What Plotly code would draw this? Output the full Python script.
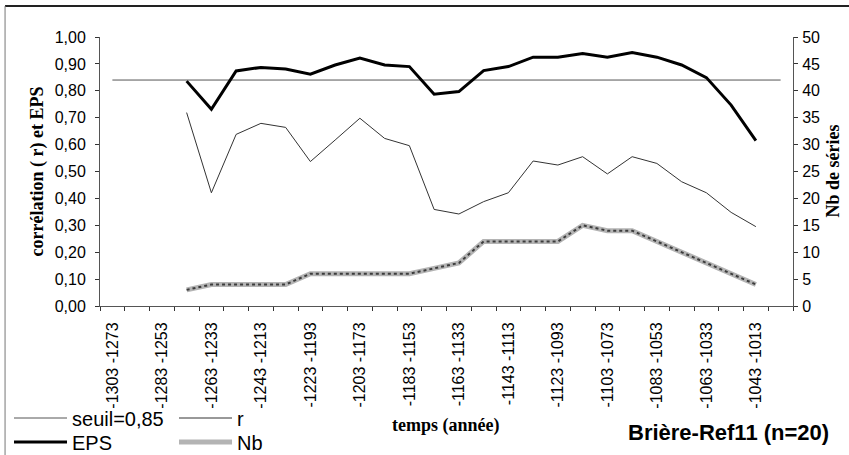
import plotly.graph_objects as go

categories = ["-1303 -1273", "-1293 -1263", "-1283 -1253", "-1273 -1243", "-1263 -1233",
              "-1253 -1223", "-1243 -1213", "-1233 -1203", "-1223 -1193", "-1213 -1183",
              "-1203 -1173", "-1193 -1163", "-1183 -1153", "-1173 -1143", "-1163 -1133",
              "-1153 -1123", "-1143 -1113", "-1133 -1103", "-1123 -1093", "-1113 -1083",
              "-1103 -1073", "-1093 -1063", "-1083 -1053", "-1073 -1043", "-1063 -1033",
              "-1053 -1023", "-1043 -1013", "-1033 -1003"]
tick_labels = ["-1303 -1273", "", "-1283 -1253", "", "-1263 -1233", "", "-1243 -1213", "",
               "-1223 -1193", "", "-1203 -1173", "", "-1183 -1153", "", "-1163 -1133", "",
               "-1143 -1113", "", "-1123 -1093", "", "-1103 -1073", "", "-1083 -1053", "",
               "-1063 -1033", "", "-1043 -1013", ""]

data_categories = categories[3:27]
eps = [0.836, 0.731, 0.874, 0.887, 0.881, 0.862, 0.896, 0.922, 0.896, 0.890, 0.787, 0.797,
       0.875, 0.890, 0.925, 0.925, 0.939, 0.925, 0.942, 0.925, 0.896, 0.849, 0.747, 0.615]
r = [0.719, 0.421, 0.638, 0.679, 0.664, 0.537, 0.617, 0.698, 0.623, 0.596, 0.359, 0.342,
     0.388, 0.421, 0.539, 0.524, 0.555, 0.491, 0.555, 0.530, 0.462, 0.421, 0.348, 0.295]
nb = [3, 4, 4, 4, 4, 6, 6, 6, 6, 6, 7, 8, 12, 12, 12, 12, 15, 14, 14, 12, 10, 8, 6, 4]
seuil_value = 0.84
seuil = [seuil_value] * len(categories)

SANS = "Liberation Sans, Arial, sans-serif"
SERIF = "Liberation Serif, Times New Roman, serif"

fig = go.Figure()
fig.add_trace(go.Scatter(x=categories, y=seuil, name="seuil=0,85", mode="lines",
                         line=dict(color="#555555", width=1), legend="legend"))
fig.add_trace(go.Scatter(x=data_categories, y=eps, name="EPS", mode="lines",
                         line=dict(color="black", width=3), legend="legend3"))
fig.add_trace(go.Scatter(x=data_categories, y=r, name="r", mode="lines",
                         line=dict(color="#333333", width=1), legend="legend2"))
fig.add_trace(go.Scatter(x=data_categories, y=nb, name="Nb", mode="lines", yaxis="y2",
                         line=dict(color="#b4b4b4", width=5), legend="legend4"))
fig.add_trace(go.Scatter(x=data_categories, y=nb, name="Nb", mode="lines", yaxis="y2",
                         line=dict(color="#3c3c3c", width=2, dash="dot"), showlegend=False))

axis_color = "#555555"


def leg(xp, yp):
    return dict(x=xp, y=yp, xanchor="left", yanchor="middle",
                font=dict(family=SANS, size=20, color="black"), itemwidth=53,
                bgcolor="rgba(0,0,0,0)", borderwidth=0)


fig.update_layout(
    width=849, height=455,
    margin=dict(l=100, r=56, t=37, b=149, autoexpand=False),
    paper_bgcolor="white", plot_bgcolor="white",
    separators=", ",
    font=dict(family=SANS, size=16, color="black"),
    xaxis=dict(
        type="category", categoryorder="array", categoryarray=categories,
        range=[-0.5, len(categories) - 0.5], automargin=False,
        tickmode="array", tickvals=categories, ticktext=tick_labels,
        tickson="boundaries", ticks="outside", ticklen=4, tickcolor="#333333",
        tickangle=-90, tickfont=dict(family=SANS, size=16), ticklabelstandoff=9,
        showline=True, linecolor=axis_color, linewidth=1, showgrid=False, zeroline=False,
    ),
    yaxis=dict(
        range=[0, 1], dtick=0.1, tick0=0, tickformat=".2f", automargin=False,
        ticks="outside", ticklen=4, tickcolor="#333333",
        showline=True, linecolor=axis_color, linewidth=1, showgrid=False, zeroline=False,
        tickfont=dict(family=SANS, size=16), ticklabelstandoff=6,
    ),
    yaxis2=dict(
        overlaying="y", side="right", range=[0, 50], dtick=5, tick0=0, automargin=False,
        ticks="outside", ticklen=4, tickcolor="#333333",
        showline=True, linecolor=axis_color, linewidth=1, showgrid=False, zeroline=False,
        tickfont=dict(family=SANS, size=16), ticklabelstandoff=1,
    ),
    legend=leg(-0.1313, -0.4164),
    legend3=leg(-0.1313, -0.5056),
    legend2=leg(0.1068, -0.4164),
    legend4=leg(0.1068, -0.5056),
    showlegend=True,
)

# axis titles
fig.add_annotation(text="<b>corrélation ( r) et EPS</b>", xref="paper", yref="paper",
                   x=-0.0909, y=0.5, textangle=-90, showarrow=False,
                   xanchor="center", yanchor="middle", font=dict(family=SERIF, size=18))
fig.add_annotation(text="<b>Nb de séries</b>", xref="paper", yref="paper",
                   x=1.0563, y=0.5, textangle=-90, showarrow=False,
                   xanchor="center", yanchor="middle", font=dict(family=SERIF, size=18))
fig.add_annotation(text="<b>temps (année)</b>", xref="paper", yref="paper",
                   x=0.4986, y=-0.4424, showarrow=False,
                   xanchor="center", yanchor="middle", font=dict(family=SERIF, size=18))
fig.add_annotation(text="<b>Brière-Ref11 (n=20)</b>", xref="paper", yref="paper",
                   x=0.9076, y=-0.472, xanchor="center", yanchor="middle",
                   showarrow=False, font=dict(family=SANS, size=22, color="black"))

# outer frame lines
fig.add_shape(type="line", xref="paper", yref="paper", x0=-0.137, x1=1.09, y0=1.115, y1=1.115,
              line=dict(color="#222222", width=2))
fig.add_shape(type="line", xref="paper", yref="paper", x0=-0.137, x1=-0.137, y0=1.115, y1=-0.6,
              line=dict(color="#777777", width=1))

fig.write_html("out.html", config={"displayModeBar": False},
               post_script="document.body.style.margin='0';document.body.style.padding='0';")
